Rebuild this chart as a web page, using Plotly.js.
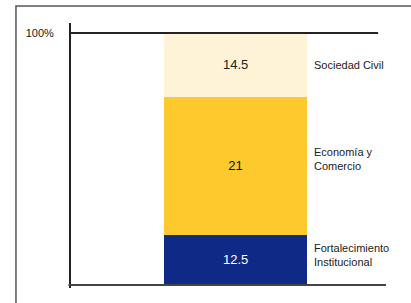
<!DOCTYPE html>
<html>
<head>
<meta charset="utf-8">
<script src="https://cdn.plot.ly/plotly-3.0.1.min.js"></script>
<style>html,body{margin:0;padding:0;background:#fff;}#chart{width:411px;height:303px;}</style>
</head>
<body>
<div id="chart"></div>
<script>
// Data
var category = [''];
var segmentNames = ['Fortalecimiento<br>Institucional', 'Economía y<br>Comercio', 'Sociedad Civil'];
var segmentShares = [20, 54.7, 25.3];        // bar heights, % of the column
var segmentLabels = ['12.5', '21', '14.5'];   // numbers printed in the bar
var segmentColors = ['#0F2A86', '#FDC92C', '#FEF3D7'];
var labelColors = ['#ffffff', '#111111', '#222222'];
var yTickVals = [100];
var yTickText = ['100%'];

var FONT = 'Liberation Sans Narrow, Liberation Sans, Arial, sans-serif';
var nameShift = [-5, -7, 0];

var traces = segmentShares.map(function (v, i) {
  return {
    type: 'bar',
    x: category,
    y: [v],
    name: segmentNames[i],
    marker: {color: segmentColors[i], line: {width: 0}},
    text: [segmentLabels[i]],
    textposition: 'inside',
    insidetextanchor: 'middle',
    textangle: 0,
    textfont: {family: FONT, size: 13, color: labelColors[i]},
    hoverinfo: 'none',
    showlegend: false
  };
});

var annotations = [];
var cum = 0;
segmentShares.forEach(function (v, i) {
  annotations.push({
    x: 0.5, xref: 'x', y: cum + v / 2, yref: 'y',
    text: segmentNames[i], showarrow: false,
    xanchor: 'left', yanchor: 'middle', align: 'left', xshift: 5, yshift: -nameShift[i],
    font: {family: FONT, size: 11, color: '#222'}
  });
  cum += v;
});

var layout = {
  width: 411, height: 303,
  margin: {l: 70, r: 25, t: 33, b: 18},
  paper_bgcolor: '#fff', plot_bgcolor: '#fff',
  barmode: 'stack', bargap: 0,
  xaxis: {range: [-1.158, 1.052], showticklabels: false, showgrid: false, zeroline: false, showline: false, fixedrange: true},
  yaxis: {range: [0, 100], tickvals: yTickVals, ticktext: yTickText, showgrid: false, zeroline: false, showline: false,
          ticks: 'outside', ticklen: 13, tickcolor: 'rgba(0,0,0,0)',
          tickfont: {family: FONT, size: 11, color: '#222'}},
  annotations: annotations,
  shapes: [
    // outer frame
    {type: 'rect', xref: 'paper', yref: 'paper', x0: -0.171, x1: 2, y0: -0.3, y1: 1.107, line: {color: '#555', width: 1.5}, fillcolor: 'rgba(0,0,0,0)', layer: 'below'},
    // y axis line
    {type: 'line', xref: 'paper', yref: 'paper', x0: 0, x1: 0, y0: -0.012, y1: 1.04, line: {color: '#222', width: 2}},
    // top line (100%)
    {type: 'line', xref: 'paper', yref: 'paper', x0: 0, x1: 0.975, y0: 1, y1: 1, line: {color: '#222', width: 2}},
    // baseline
    {type: 'line', xref: 'paper', yref: 'paper', x0: -0.005, x1: 1.0, y0: 0, y1: 0, line: {color: '#444', width: 2}}
  ]
};

Plotly.newPlot('chart', traces, layout, {displayModeBar: false, staticPlot: true});
</script>
</body>
</html>
